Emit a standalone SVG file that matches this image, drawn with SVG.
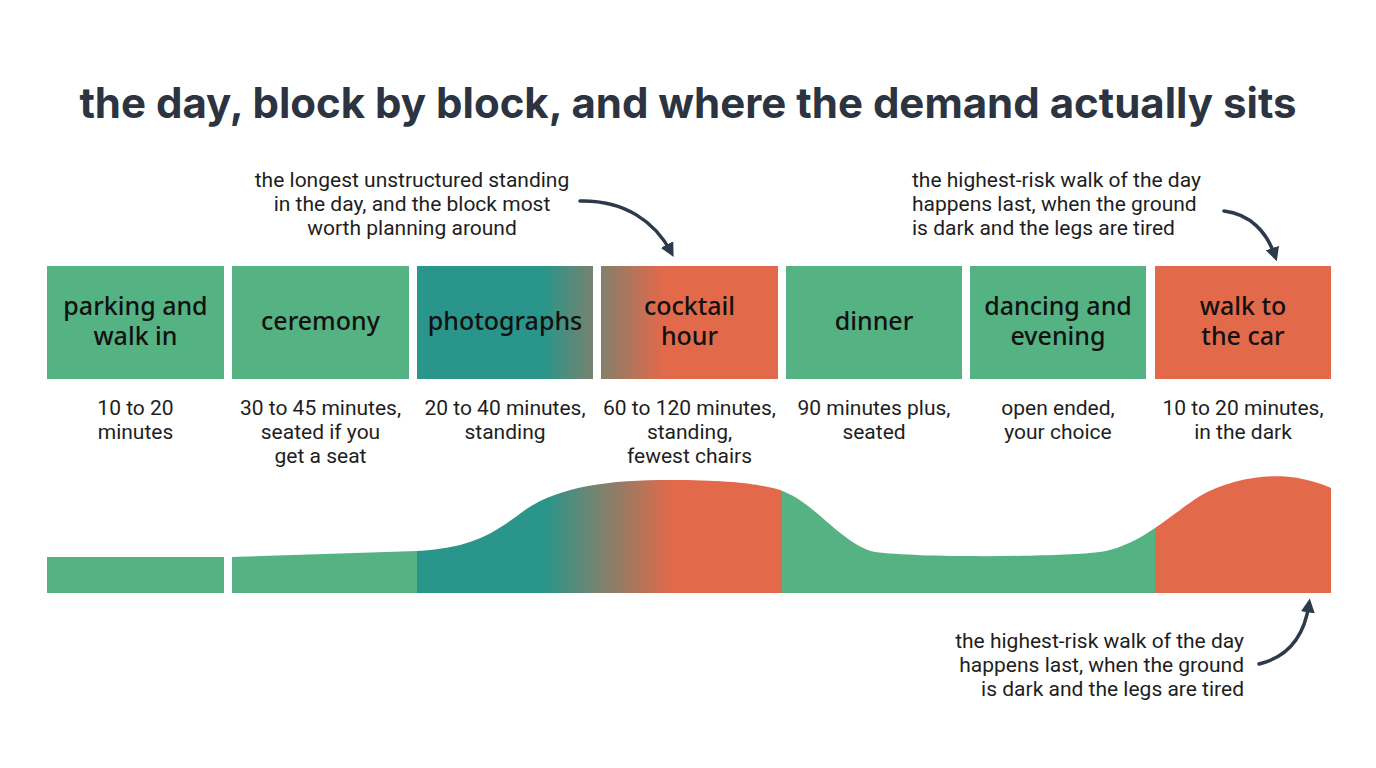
<svg xmlns="http://www.w3.org/2000/svg" width="1376" height="768" viewBox="0 0 1376 768">
<style>
.title{font-family:Inter,"Noto Sans","Liberation Sans",sans-serif;font-weight:700;font-size:42px;fill:#2b3440;}
.blab{font-family:"Noto Sans","Liberation Sans",sans-serif;font-weight:500;font-size:25px;fill:#111;text-anchor:middle;}
.sub{font-family:Roboto,"Liberation Sans",sans-serif;font-size:21px;fill:#1e1e1e;text-anchor:middle;}
.ann{font-family:Roboto,"Liberation Sans",sans-serif;font-size:21px;fill:#1e1e1e;}
.green{fill:#55B283;}
.orange{fill:#E2694A;}
.arrow{fill:none;stroke:#2d3a4a;stroke-width:3.5;stroke-linecap:round;marker-end:url(#ah);}
</style>
<defs>
<marker id="ah" viewBox="0 0 10 10" refX="6" refY="5" markerWidth="4" markerHeight="4" orient="auto" markerUnits="strokeWidth">
<path d="M0,0 L10,5 L0,10 Z" fill="#2d3a4a"/>
</marker>
<linearGradient id="gBox" gradientUnits="userSpaceOnUse" x1="417" y1="0" x2="778" y2="0">
<stop offset="0" stop-color="#2A958A"/>
<stop offset="0.35" stop-color="#2A958A"/>
<stop offset="0.68" stop-color="#E2694A"/>
<stop offset="1" stop-color="#E2694A"/>
</linearGradient>
<linearGradient id="gBand" gradientUnits="userSpaceOnUse" x1="232" y1="0" x2="1331" y2="0">
<stop offset="0" stop-color="#55B283"/>
<stop offset="0.1683" stop-color="#55B283"/>
<stop offset="0.1683" stop-color="#2A958A"/>
<stop offset="0.285" stop-color="#2A958A"/>
<stop offset="0.40" stop-color="#E2694A"/>
<stop offset="0.5008" stop-color="#E2694A"/>
<stop offset="0.5008" stop-color="#55B283"/>
<stop offset="0.8399" stop-color="#55B283"/>
<stop offset="0.8399" stop-color="#E2694A"/>
<stop offset="1" stop-color="#E2694A"/>
</linearGradient>
</defs>
<rect width="1376" height="768" fill="#ffffff"/>
<text class="title" x="688" y="118" text-anchor="middle">the day, block by block, and where the demand actually sits</text>

<g id="block-parking">
<rect class="green" x="47" y="266" width="177" height="113"/>
<text class="blab" x="135.5" y="315">parking and</text>
<text class="blab" x="135.5" y="345">walk in</text>
<text class="sub" x="135.5" y="415">10 to 20</text>
<text class="sub" x="135.5" y="439">minutes</text>
</g>
<g id="block-ceremony">
<rect class="green" x="232" y="266" width="177" height="113"/>
<text class="blab" x="320.5" y="330">ceremony</text>
<text class="sub" x="320.5" y="415">30 to 45 minutes,</text>
<text class="sub" x="320.5" y="439">seated if you</text>
<text class="sub" x="320.5" y="463">get a seat</text>
</g>
<g id="block-photographs">
<rect x="417" y="266" width="176" height="113" fill="url(#gBox)"/>
<text class="blab" x="505" y="330">photographs</text>
<text class="sub" x="505" y="415">20 to 40 minutes,</text>
<text class="sub" x="505" y="439">standing</text>
</g>
<g id="block-cocktail">
<rect x="601" y="266" width="177" height="113" fill="url(#gBox)"/>
<text class="blab" x="689.5" y="315">cocktail</text>
<text class="blab" x="689.5" y="345">hour</text>
<text class="sub" x="689.5" y="415">60 to 120 minutes,</text>
<text class="sub" x="689.5" y="439">standing,</text>
<text class="sub" x="689.5" y="463">fewest chairs</text>
</g>
<g id="block-dinner">
<rect class="green" x="786" y="266" width="176" height="113"/>
<text class="blab" x="874" y="330">dinner</text>
<text class="sub" x="874" y="415">90 minutes plus,</text>
<text class="sub" x="874" y="439">seated</text>
</g>
<g id="block-dancing">
<rect class="green" x="970" y="266" width="176" height="113"/>
<text class="blab" x="1058" y="315">dancing and</text>
<text class="blab" x="1058" y="345">evening</text>
<text class="sub" x="1058" y="415">open ended,</text>
<text class="sub" x="1058" y="439">your choice</text>
</g>
<g id="block-walk">
<rect class="orange" x="1155" y="266" width="176" height="113"/>
<text class="blab" x="1243" y="315">walk to</text>
<text class="blab" x="1243" y="345">the car</text>
<text class="sub" x="1243" y="415">10 to 20 minutes,</text>
<text class="sub" x="1243" y="439">in the dark</text>
</g>

<g id="demand-band">
<rect class="green" x="47" y="557" width="177" height="36"/>
<path fill="url(#gBand)" d="M232,593 L232,557 L417,551 C470,548 492,535 525,510 C560,486 610,480 670,480 C730,480 760,484 780,490 C815,502 842,545 875,552 C920,558 1060,557 1100,552 C1140,546 1170,515 1200,496 C1230,479 1268,473 1298,478 C1314,481 1324,485 1331,488 L1331,593 Z"/>
</g>

<g id="annotation-cocktail">
<text class="ann" text-anchor="middle" x="412" y="187">the longest unstructured standing</text>
<text class="ann" text-anchor="middle" x="412" y="211">in the day, and the block most</text>
<text class="ann" text-anchor="middle" x="412" y="235">worth planning around</text>
</g>
<g id="annotation-walk-top">
<text class="ann" x="912" y="187">the highest-risk walk of the day</text>
<text class="ann" x="912" y="211">happens last, when the ground</text>
<text class="ann" x="912" y="235">is dark and the legs are tired</text>
</g>
<g id="annotation-walk-bottom">
<text class="ann" text-anchor="end" x="1244" y="648">the highest-risk walk of the day</text>
<text class="ann" text-anchor="end" x="1244" y="672">happens last, when the ground</text>
<text class="ann" text-anchor="end" x="1244" y="696">is dark and the legs are tired</text>
</g>

<g id="connectors">
<path class="arrow" d="M580,201 C625,200 655,222 671,252"/>
<path class="arrow" d="M1224,211 C1250,214 1267,232 1275,256"/>
<path class="arrow" d="M1259,664 C1292,656 1305,632 1309,604"/>
</g>
</svg>
